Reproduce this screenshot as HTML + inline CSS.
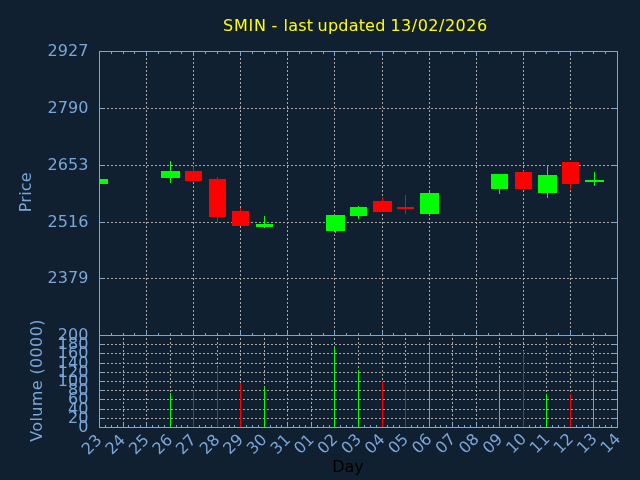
<!DOCTYPE html>
<html lang="en"><head><meta charset="utf-8"><title>SMIN</title>
<style>html,body{margin:0;padding:0;background:#102030;overflow:hidden}svg{display:block;will-change:transform}text{font-family:"DejaVu Sans", "Liberation Sans", sans-serif;font-size:16px}</style></head><body>
<svg width="640" height="480" viewBox="0 0 640 480">
<rect x="0" y="0" width="640" height="480" fill="#102030"/>
<g stroke="#a9a7a3" stroke-width="1" stroke-dasharray="2 2" shape-rendering="crispEdges" fill="none">
<path d="M99 108.5 H617"/>
<path d="M99 165.5 H617"/>
<path d="M99 222.5 H617"/>
<path d="M99 278.5 H617"/>
<path d="M146.5 336 V52"/>
<path d="M193.5 336 V52"/>
<path d="M240.5 336 V52"/>
<path d="M287.5 336 V52"/>
<path d="M334.5 336 V52"/>
<path d="M382.5 336 V52"/>
<path d="M429.5 336 V52"/>
<path d="M476.5 336 V52"/>
<path d="M523.5 336 V52"/>
<path d="M570.5 336 V52"/>
<path d="M99 344.5 H617"/>
<path d="M99 353.5 H617"/>
<path d="M99 363.5 H617"/>
<path d="M99 372.5 H617"/>
<path d="M99 381.5 H617"/>
<path d="M99 390.5 H617"/>
<path d="M99 399.5 H617"/>
<path d="M99 409.5 H617"/>
<path d="M99 418.5 H617"/>
<path d="M123.5 428 V336"/>
<path d="M146.5 428 V336"/>
<path d="M170.5 428 V336"/>
<path d="M193.5 428 V336"/>
<path d="M217.5 428 V336"/>
<path d="M240.5 428 V336"/>
<path d="M264.5 428 V336"/>
<path d="M287.5 428 V336"/>
<path d="M311.5 428 V336"/>
<path d="M334.5 428 V336"/>
<path d="M358.5 428 V336"/>
<path d="M382.5 428 V336"/>
<path d="M405.5 428 V336"/>
<path d="M429.5 428 V336"/>
<path d="M452.5 428 V336"/>
<path d="M476.5 428 V336"/>
<path d="M499.5 428 V336"/>
<path d="M523.5 428 V336"/>
<path d="M546.5 428 V336"/>
<path d="M570.5 428 V336"/>
<path d="M593.5 428 V336"/>
</g>
<g shape-rendering="crispEdges">
<rect x="100" y="179" width="8" height="5" fill="#00ff00"/>
<rect x="170" y="161" width="1" height="22" fill="#00ff00"/>
<rect x="161" y="171" width="19" height="7" fill="#00ff00"/>
<rect x="193" y="167" width="1" height="14" fill="#ff0000"/>
<rect x="185" y="171" width="17" height="10" fill="#ff0000"/>
<rect x="217" y="177" width="1" height="46" fill="#ff0000"/>
<rect x="209" y="179" width="17" height="38" fill="#ff0000"/>
<rect x="240" y="208" width="1" height="18" fill="#ff0000"/>
<rect x="232" y="211" width="17" height="15" fill="#ff0000"/>
<rect x="264" y="216" width="1" height="12" fill="#00ff00"/>
<rect x="256" y="224" width="17" height="3" fill="#00ff00"/>
<rect x="335" y="215" width="1" height="18" fill="#00ff00"/>
<rect x="326" y="215" width="19" height="16" fill="#00ff00"/>
<rect x="358" y="206" width="1" height="13" fill="#00ff00"/>
<rect x="350" y="207" width="17" height="9" fill="#00ff00"/>
<rect x="382" y="197" width="1" height="15" fill="#ff0000"/>
<rect x="373" y="201" width="19" height="11" fill="#ff0000"/>
<rect x="405" y="195" width="1" height="19" fill="#ff0000"/>
<rect x="397" y="207" width="17" height="2" fill="#ff0000"/>
<rect x="429" y="191" width="1" height="25" fill="#00ff00"/>
<rect x="420" y="193" width="19" height="21" fill="#00ff00"/>
<rect x="499" y="174" width="1" height="20" fill="#00ff00"/>
<rect x="491" y="174" width="17" height="15" fill="#00ff00"/>
<rect x="523" y="171" width="1" height="18" fill="#ff0000"/>
<rect x="515" y="172" width="17" height="17" fill="#ff0000"/>
<rect x="547" y="165" width="1" height="33" fill="#00ff00"/>
<rect x="538" y="175" width="19" height="18" fill="#00ff00"/>
<rect x="570" y="162" width="1" height="27" fill="#ff0000"/>
<rect x="562" y="162" width="17" height="22" fill="#ff0000"/>
<rect x="594" y="172" width="1" height="14" fill="#00ff00"/>
<rect x="585" y="180" width="19" height="2" fill="#00ff00"/>
</g>
<g shape-rendering="crispEdges">
<rect x="111" y="52" width="1" height="2" fill="#7aa6d8"/>
<rect x="111" y="333" width="1" height="2" fill="#7aa6d8"/>
<rect x="123" y="52" width="1" height="2" fill="#7aa6d8"/>
<rect x="123" y="333" width="1" height="2" fill="#7aa6d8"/>
<rect x="134" y="52" width="1" height="2" fill="#7aa6d8"/>
<rect x="134" y="333" width="1" height="2" fill="#7aa6d8"/>
<rect x="146" y="52" width="1" height="4" fill="#7aa6d8"/>
<rect x="146" y="331" width="1" height="4" fill="#7aa6d8"/>
<rect x="158" y="52" width="1" height="2" fill="#7aa6d8"/>
<rect x="158" y="333" width="1" height="2" fill="#7aa6d8"/>
<rect x="170" y="52" width="1" height="2" fill="#7aa6d8"/>
<rect x="170" y="333" width="1" height="2" fill="#7aa6d8"/>
<rect x="181" y="52" width="1" height="2" fill="#7aa6d8"/>
<rect x="181" y="333" width="1" height="2" fill="#7aa6d8"/>
<rect x="193" y="52" width="1" height="4" fill="#7aa6d8"/>
<rect x="193" y="331" width="1" height="4" fill="#7aa6d8"/>
<rect x="205" y="52" width="1" height="2" fill="#7aa6d8"/>
<rect x="205" y="333" width="1" height="2" fill="#7aa6d8"/>
<rect x="217" y="52" width="1" height="2" fill="#7aa6d8"/>
<rect x="217" y="333" width="1" height="2" fill="#7aa6d8"/>
<rect x="229" y="52" width="1" height="2" fill="#7aa6d8"/>
<rect x="229" y="333" width="1" height="2" fill="#7aa6d8"/>
<rect x="240" y="52" width="1" height="4" fill="#7aa6d8"/>
<rect x="240" y="331" width="1" height="4" fill="#7aa6d8"/>
<rect x="252" y="52" width="1" height="2" fill="#7aa6d8"/>
<rect x="252" y="333" width="1" height="2" fill="#7aa6d8"/>
<rect x="264" y="52" width="1" height="2" fill="#7aa6d8"/>
<rect x="264" y="333" width="1" height="2" fill="#7aa6d8"/>
<rect x="276" y="52" width="1" height="2" fill="#7aa6d8"/>
<rect x="276" y="333" width="1" height="2" fill="#7aa6d8"/>
<rect x="287" y="52" width="1" height="4" fill="#7aa6d8"/>
<rect x="287" y="331" width="1" height="4" fill="#7aa6d8"/>
<rect x="299" y="52" width="1" height="2" fill="#7aa6d8"/>
<rect x="299" y="333" width="1" height="2" fill="#7aa6d8"/>
<rect x="311" y="52" width="1" height="2" fill="#7aa6d8"/>
<rect x="311" y="333" width="1" height="2" fill="#7aa6d8"/>
<rect x="323" y="52" width="1" height="2" fill="#7aa6d8"/>
<rect x="323" y="333" width="1" height="2" fill="#7aa6d8"/>
<rect x="334" y="52" width="1" height="4" fill="#7aa6d8"/>
<rect x="334" y="331" width="1" height="4" fill="#7aa6d8"/>
<rect x="346" y="52" width="1" height="2" fill="#7aa6d8"/>
<rect x="346" y="333" width="1" height="2" fill="#7aa6d8"/>
<rect x="358" y="52" width="1" height="2" fill="#7aa6d8"/>
<rect x="358" y="333" width="1" height="2" fill="#7aa6d8"/>
<rect x="370" y="52" width="1" height="2" fill="#7aa6d8"/>
<rect x="370" y="333" width="1" height="2" fill="#7aa6d8"/>
<rect x="382" y="52" width="1" height="4" fill="#7aa6d8"/>
<rect x="382" y="331" width="1" height="4" fill="#7aa6d8"/>
<rect x="393" y="52" width="1" height="2" fill="#7aa6d8"/>
<rect x="393" y="333" width="1" height="2" fill="#7aa6d8"/>
<rect x="405" y="52" width="1" height="2" fill="#7aa6d8"/>
<rect x="405" y="333" width="1" height="2" fill="#7aa6d8"/>
<rect x="417" y="52" width="1" height="2" fill="#7aa6d8"/>
<rect x="417" y="333" width="1" height="2" fill="#7aa6d8"/>
<rect x="429" y="52" width="1" height="4" fill="#7aa6d8"/>
<rect x="429" y="331" width="1" height="4" fill="#7aa6d8"/>
<rect x="440" y="52" width="1" height="2" fill="#7aa6d8"/>
<rect x="440" y="333" width="1" height="2" fill="#7aa6d8"/>
<rect x="452" y="52" width="1" height="2" fill="#7aa6d8"/>
<rect x="452" y="333" width="1" height="2" fill="#7aa6d8"/>
<rect x="464" y="52" width="1" height="2" fill="#7aa6d8"/>
<rect x="464" y="333" width="1" height="2" fill="#7aa6d8"/>
<rect x="476" y="52" width="1" height="4" fill="#7aa6d8"/>
<rect x="476" y="331" width="1" height="4" fill="#7aa6d8"/>
<rect x="488" y="52" width="1" height="2" fill="#7aa6d8"/>
<rect x="488" y="333" width="1" height="2" fill="#7aa6d8"/>
<rect x="499" y="52" width="1" height="2" fill="#7aa6d8"/>
<rect x="499" y="333" width="1" height="2" fill="#7aa6d8"/>
<rect x="511" y="52" width="1" height="2" fill="#7aa6d8"/>
<rect x="511" y="333" width="1" height="2" fill="#7aa6d8"/>
<rect x="523" y="52" width="1" height="4" fill="#7aa6d8"/>
<rect x="523" y="331" width="1" height="4" fill="#7aa6d8"/>
<rect x="535" y="52" width="1" height="2" fill="#7aa6d8"/>
<rect x="535" y="333" width="1" height="2" fill="#7aa6d8"/>
<rect x="546" y="52" width="1" height="2" fill="#7aa6d8"/>
<rect x="546" y="333" width="1" height="2" fill="#7aa6d8"/>
<rect x="558" y="52" width="1" height="2" fill="#7aa6d8"/>
<rect x="558" y="333" width="1" height="2" fill="#7aa6d8"/>
<rect x="570" y="52" width="1" height="4" fill="#7aa6d8"/>
<rect x="570" y="331" width="1" height="4" fill="#7aa6d8"/>
<rect x="582" y="52" width="1" height="2" fill="#7aa6d8"/>
<rect x="582" y="333" width="1" height="2" fill="#7aa6d8"/>
<rect x="593" y="52" width="1" height="2" fill="#7aa6d8"/>
<rect x="593" y="333" width="1" height="2" fill="#7aa6d8"/>
<rect x="605" y="52" width="1" height="2" fill="#7aa6d8"/>
<rect x="605" y="333" width="1" height="2" fill="#7aa6d8"/>
<rect x="100" y="108" width="4" height="1" fill="#7aa6d8"/>
<rect x="613" y="108" width="4" height="1" fill="#7aa6d8"/>
<rect x="100" y="165" width="4" height="1" fill="#7aa6d8"/>
<rect x="613" y="165" width="4" height="1" fill="#7aa6d8"/>
<rect x="100" y="222" width="4" height="1" fill="#7aa6d8"/>
<rect x="613" y="222" width="4" height="1" fill="#7aa6d8"/>
<rect x="100" y="278" width="4" height="1" fill="#7aa6d8"/>
<rect x="613" y="278" width="4" height="1" fill="#7aa6d8"/>
<rect x="100" y="344" width="4" height="1" fill="#7aa6d8"/>
<rect x="613" y="344" width="4" height="1" fill="#7aa6d8"/>
<rect x="100" y="353" width="4" height="1" fill="#7aa6d8"/>
<rect x="613" y="353" width="4" height="1" fill="#7aa6d8"/>
<rect x="100" y="363" width="4" height="1" fill="#7aa6d8"/>
<rect x="613" y="363" width="4" height="1" fill="#7aa6d8"/>
<rect x="100" y="372" width="4" height="1" fill="#7aa6d8"/>
<rect x="613" y="372" width="4" height="1" fill="#7aa6d8"/>
<rect x="100" y="381" width="4" height="1" fill="#7aa6d8"/>
<rect x="613" y="381" width="4" height="1" fill="#7aa6d8"/>
<rect x="100" y="390" width="4" height="1" fill="#7aa6d8"/>
<rect x="613" y="390" width="4" height="1" fill="#7aa6d8"/>
<rect x="100" y="399" width="4" height="1" fill="#7aa6d8"/>
<rect x="613" y="399" width="4" height="1" fill="#7aa6d8"/>
<rect x="100" y="409" width="4" height="1" fill="#7aa6d8"/>
<rect x="613" y="409" width="4" height="1" fill="#7aa6d8"/>
<rect x="100" y="418" width="4" height="1" fill="#7aa6d8"/>
<rect x="613" y="418" width="4" height="1" fill="#7aa6d8"/>
<rect x="105" y="425" width="1" height="2" fill="#7aa6d8"/>
<rect x="111" y="425" width="1" height="2" fill="#7aa6d8"/>
<rect x="117" y="425" width="1" height="2" fill="#7aa6d8"/>
<rect x="123" y="423" width="1" height="4" fill="#7aa6d8"/>
<rect x="128" y="425" width="1" height="2" fill="#7aa6d8"/>
<rect x="134" y="425" width="1" height="2" fill="#7aa6d8"/>
<rect x="140" y="425" width="1" height="2" fill="#7aa6d8"/>
<rect x="146" y="423" width="1" height="4" fill="#7aa6d8"/>
<rect x="152" y="425" width="1" height="2" fill="#7aa6d8"/>
<rect x="158" y="425" width="1" height="2" fill="#7aa6d8"/>
<rect x="164" y="425" width="1" height="2" fill="#7aa6d8"/>
<rect x="170" y="423" width="1" height="4" fill="#7aa6d8"/>
<rect x="176" y="425" width="1" height="2" fill="#7aa6d8"/>
<rect x="181" y="425" width="1" height="2" fill="#7aa6d8"/>
<rect x="187" y="425" width="1" height="2" fill="#7aa6d8"/>
<rect x="193" y="423" width="1" height="4" fill="#7aa6d8"/>
<rect x="199" y="425" width="1" height="2" fill="#7aa6d8"/>
<rect x="205" y="425" width="1" height="2" fill="#7aa6d8"/>
<rect x="211" y="425" width="1" height="2" fill="#7aa6d8"/>
<rect x="217" y="423" width="1" height="4" fill="#7aa6d8"/>
<rect x="223" y="425" width="1" height="2" fill="#7aa6d8"/>
<rect x="229" y="425" width="1" height="2" fill="#7aa6d8"/>
<rect x="234" y="425" width="1" height="2" fill="#7aa6d8"/>
<rect x="240" y="423" width="1" height="4" fill="#7aa6d8"/>
<rect x="246" y="425" width="1" height="2" fill="#7aa6d8"/>
<rect x="252" y="425" width="1" height="2" fill="#7aa6d8"/>
<rect x="258" y="425" width="1" height="2" fill="#7aa6d8"/>
<rect x="264" y="423" width="1" height="4" fill="#7aa6d8"/>
<rect x="270" y="425" width="1" height="2" fill="#7aa6d8"/>
<rect x="276" y="425" width="1" height="2" fill="#7aa6d8"/>
<rect x="281" y="425" width="1" height="2" fill="#7aa6d8"/>
<rect x="287" y="423" width="1" height="4" fill="#7aa6d8"/>
<rect x="293" y="425" width="1" height="2" fill="#7aa6d8"/>
<rect x="299" y="425" width="1" height="2" fill="#7aa6d8"/>
<rect x="305" y="425" width="1" height="2" fill="#7aa6d8"/>
<rect x="311" y="423" width="1" height="4" fill="#7aa6d8"/>
<rect x="317" y="425" width="1" height="2" fill="#7aa6d8"/>
<rect x="323" y="425" width="1" height="2" fill="#7aa6d8"/>
<rect x="329" y="425" width="1" height="2" fill="#7aa6d8"/>
<rect x="334" y="423" width="1" height="4" fill="#7aa6d8"/>
<rect x="340" y="425" width="1" height="2" fill="#7aa6d8"/>
<rect x="346" y="425" width="1" height="2" fill="#7aa6d8"/>
<rect x="352" y="425" width="1" height="2" fill="#7aa6d8"/>
<rect x="358" y="423" width="1" height="4" fill="#7aa6d8"/>
<rect x="364" y="425" width="1" height="2" fill="#7aa6d8"/>
<rect x="370" y="425" width="1" height="2" fill="#7aa6d8"/>
<rect x="376" y="425" width="1" height="2" fill="#7aa6d8"/>
<rect x="382" y="423" width="1" height="4" fill="#7aa6d8"/>
<rect x="387" y="425" width="1" height="2" fill="#7aa6d8"/>
<rect x="393" y="425" width="1" height="2" fill="#7aa6d8"/>
<rect x="399" y="425" width="1" height="2" fill="#7aa6d8"/>
<rect x="405" y="423" width="1" height="4" fill="#7aa6d8"/>
<rect x="411" y="425" width="1" height="2" fill="#7aa6d8"/>
<rect x="417" y="425" width="1" height="2" fill="#7aa6d8"/>
<rect x="423" y="425" width="1" height="2" fill="#7aa6d8"/>
<rect x="429" y="423" width="1" height="4" fill="#7aa6d8"/>
<rect x="435" y="425" width="1" height="2" fill="#7aa6d8"/>
<rect x="440" y="425" width="1" height="2" fill="#7aa6d8"/>
<rect x="446" y="425" width="1" height="2" fill="#7aa6d8"/>
<rect x="452" y="423" width="1" height="4" fill="#7aa6d8"/>
<rect x="458" y="425" width="1" height="2" fill="#7aa6d8"/>
<rect x="464" y="425" width="1" height="2" fill="#7aa6d8"/>
<rect x="470" y="425" width="1" height="2" fill="#7aa6d8"/>
<rect x="476" y="423" width="1" height="4" fill="#7aa6d8"/>
<rect x="482" y="425" width="1" height="2" fill="#7aa6d8"/>
<rect x="488" y="425" width="1" height="2" fill="#7aa6d8"/>
<rect x="493" y="425" width="1" height="2" fill="#7aa6d8"/>
<rect x="499" y="423" width="1" height="4" fill="#7aa6d8"/>
<rect x="505" y="425" width="1" height="2" fill="#7aa6d8"/>
<rect x="511" y="425" width="1" height="2" fill="#7aa6d8"/>
<rect x="517" y="425" width="1" height="2" fill="#7aa6d8"/>
<rect x="523" y="423" width="1" height="4" fill="#7aa6d8"/>
<rect x="529" y="425" width="1" height="2" fill="#7aa6d8"/>
<rect x="535" y="425" width="1" height="2" fill="#7aa6d8"/>
<rect x="540" y="425" width="1" height="2" fill="#7aa6d8"/>
<rect x="546" y="423" width="1" height="4" fill="#7aa6d8"/>
<rect x="552" y="425" width="1" height="2" fill="#7aa6d8"/>
<rect x="558" y="425" width="1" height="2" fill="#7aa6d8"/>
<rect x="564" y="425" width="1" height="2" fill="#7aa6d8"/>
<rect x="570" y="423" width="1" height="4" fill="#7aa6d8"/>
<rect x="576" y="425" width="1" height="2" fill="#7aa6d8"/>
<rect x="582" y="425" width="1" height="2" fill="#7aa6d8"/>
<rect x="588" y="425" width="1" height="2" fill="#7aa6d8"/>
<rect x="593" y="423" width="1" height="4" fill="#7aa6d8"/>
<rect x="599" y="425" width="1" height="2" fill="#7aa6d8"/>
<rect x="605" y="425" width="1" height="2" fill="#7aa6d8"/>
<rect x="611" y="425" width="1" height="2" fill="#7aa6d8"/>
<rect x="170" y="393" width="1" height="34" fill="#00ff00"/>
<rect x="193" y="390" width="1" height="37" fill="#ff0000"/>
<rect x="217" y="367" width="1" height="60" fill="#ff0000"/>
<rect x="240" y="383" width="1" height="44" fill="#ff0000"/>
<rect x="264" y="387" width="1" height="40" fill="#00ff00"/>
<rect x="334" y="347" width="1" height="80" fill="#00ff00"/>
<rect x="358" y="370" width="1" height="57" fill="#00ff00"/>
<rect x="382" y="382" width="1" height="45" fill="#ff0000"/>
<rect x="405" y="385" width="1" height="42" fill="#ff0000"/>
<rect x="429" y="344" width="1" height="83" fill="#00ff00"/>
<rect x="499" y="374" width="1" height="53" fill="#00ff00"/>
<rect x="523" y="351" width="1" height="76" fill="#ff0000"/>
<rect x="546" y="394" width="1" height="33" fill="#00ff00"/>
<rect x="570" y="394" width="1" height="33" fill="#ff0000"/>
<rect x="593" y="378" width="1" height="49" fill="#00ff00"/>
<rect x="99" y="51" width="519" height="1" fill="#7aa6d8"/>
<rect x="99" y="335" width="519" height="1" fill="#7aa6d8"/>
<rect x="99" y="427" width="519" height="1" fill="#7aa6d8"/>
<rect x="99" y="51" width="1" height="377" fill="#7aa6d8"/>
<rect x="617" y="51" width="1" height="377" fill="#7aa6d8"/>
</g>
<g fill="#ffff00">
<text x="223.0" y="31" letter-spacing="0.8">SMIN</text>
<text x="271.4" y="31" letter-spacing="0">-</text>
<text x="283.6" y="31" letter-spacing="0.2">last</text>
<text x="317.6" y="31" letter-spacing="0.2">updated</text>
<text x="390.4" y="31" letter-spacing="0.5">13/02/2026</text>
</g>
<text x="88.6" y="55.6" text-anchor="end" letter-spacing="0.1" fill="#7aa6d8">2927</text>
<text x="88.6" y="112.6" text-anchor="end" letter-spacing="0.1" fill="#7aa6d8">2790</text>
<text x="88.6" y="169.6" text-anchor="end" letter-spacing="0.1" fill="#7aa6d8">2653</text>
<text x="88.6" y="226.6" text-anchor="end" letter-spacing="0.1" fill="#7aa6d8">2516</text>
<text x="88.6" y="282.6" text-anchor="end" letter-spacing="0.1" fill="#7aa6d8">2379</text>
<text x="88.6" y="339.6" text-anchor="end" letter-spacing="0.1" fill="#7aa6d8">200</text>
<text x="88.6" y="348.6" text-anchor="end" letter-spacing="0.1" fill="#7aa6d8">180</text>
<text x="88.6" y="357.6" text-anchor="end" letter-spacing="0.1" fill="#7aa6d8">160</text>
<text x="88.6" y="367.6" text-anchor="end" letter-spacing="0.1" fill="#7aa6d8">140</text>
<text x="88.6" y="376.6" text-anchor="end" letter-spacing="0.1" fill="#7aa6d8">120</text>
<text x="88.6" y="385.6" text-anchor="end" letter-spacing="0.1" fill="#7aa6d8">100</text>
<text x="88.6" y="394.6" text-anchor="end" letter-spacing="0.1" fill="#7aa6d8">80</text>
<text x="88.6" y="403.6" text-anchor="end" letter-spacing="0.1" fill="#7aa6d8">60</text>
<text x="88.6" y="413.6" text-anchor="end" letter-spacing="0.1" fill="#7aa6d8">40</text>
<text x="88.6" y="422.6" text-anchor="end" letter-spacing="0.1" fill="#7aa6d8">20</text>
<text x="88.6" y="431.6" text-anchor="end" letter-spacing="0.1" fill="#7aa6d8">0</text>
<text transform="translate(31 192.2) rotate(-90)" text-anchor="middle" letter-spacing="0.2" fill="#7aa6d8">Price</text>
<text transform="translate(41.9 380.5) rotate(-90)" text-anchor="middle" letter-spacing="0.37" fill="#7aa6d8">Volume (0000)</text>
<text transform="translate(102.7 441.0) rotate(-45)" text-anchor="end" fill="#7aa6d8">23</text>
<text transform="translate(126.28 440.94) rotate(-45)" text-anchor="end" fill="#7aa6d8">24</text>
<text transform="translate(149.86 440.88) rotate(-45)" text-anchor="end" fill="#7aa6d8">25</text>
<text transform="translate(173.44 440.82) rotate(-45)" text-anchor="end" fill="#7aa6d8">26</text>
<text transform="translate(197.02 440.76) rotate(-45)" text-anchor="end" fill="#7aa6d8">27</text>
<text transform="translate(220.6 440.7) rotate(-45)" text-anchor="end" fill="#7aa6d8">28</text>
<text transform="translate(244.18 440.64) rotate(-45)" text-anchor="end" fill="#7aa6d8">29</text>
<text transform="translate(267.76 440.58) rotate(-45)" text-anchor="end" fill="#7aa6d8">30</text>
<text transform="translate(291.34 440.52) rotate(-45)" text-anchor="end" fill="#7aa6d8">31</text>
<text transform="translate(314.92 440.46) rotate(-45)" text-anchor="end" fill="#7aa6d8">01</text>
<text transform="translate(338.5 440.4) rotate(-45)" text-anchor="end" fill="#7aa6d8">02</text>
<text transform="translate(362.08 440.34) rotate(-45)" text-anchor="end" fill="#7aa6d8">03</text>
<text transform="translate(385.66 440.28) rotate(-45)" text-anchor="end" fill="#7aa6d8">04</text>
<text transform="translate(409.24 440.22) rotate(-45)" text-anchor="end" fill="#7aa6d8">05</text>
<text transform="translate(432.82 440.16) rotate(-45)" text-anchor="end" fill="#7aa6d8">06</text>
<text transform="translate(456.4 440.1) rotate(-45)" text-anchor="end" fill="#7aa6d8">07</text>
<text transform="translate(479.98 440.04) rotate(-45)" text-anchor="end" fill="#7aa6d8">08</text>
<text transform="translate(503.56 439.98) rotate(-45)" text-anchor="end" fill="#7aa6d8">09</text>
<text transform="translate(527.14 439.92) rotate(-45)" text-anchor="end" fill="#7aa6d8">10</text>
<text transform="translate(550.72 439.86) rotate(-45)" text-anchor="end" fill="#7aa6d8">11</text>
<text transform="translate(574.3 439.8) rotate(-45)" text-anchor="end" fill="#7aa6d8">12</text>
<text transform="translate(597.88 439.74) rotate(-45)" text-anchor="end" fill="#7aa6d8">13</text>
<text transform="translate(621.46 439.68) rotate(-45)" text-anchor="end" fill="#7aa6d8">14</text>
<text x="348" y="472" text-anchor="middle" fill="#000000">Day</text>
</svg></body></html>
